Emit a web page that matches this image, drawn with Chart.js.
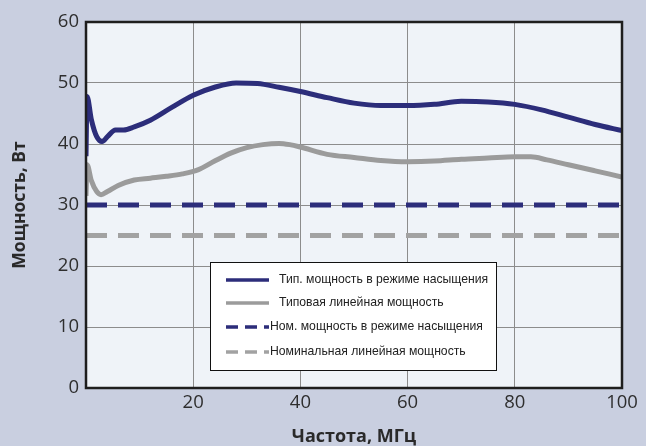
<!DOCTYPE html>
<html>
<head>
<meta charset="utf-8">
<script src="https://cdn.jsdelivr.net/npm/chart.js@4/dist/chart.umd.min.js"></script>
<style>
  html, body { margin: 0; padding: 0; background: #c9cfe0; }
  #wrap { width: 646px; height: 446px; }
</style>
</head>
<body>
<div id="wrap"><canvas id="c" width="646" height="446"></canvas></div>
<script>
// ---- data ----
const seriesNames = [
  "Тип. мощность в режиме насыщения",
  "Типовая линейная мощность",
  "Ном. мощность в режиме насыщения",
  "Номинальная линейная мощность"
];
const freqSat  = [0, 0.2, 1, 2, 3, 4, 5.5, 7, 9, 12, 16, 20, 24, 28, 32, 36, 40, 45, 50, 55, 60, 65, 70, 75, 80, 85, 90, 95, 100];
const powerSat = [38, 47.8, 44, 41.2, 40.4, 41.2, 42.3, 42.3, 42.8, 43.9, 46.0, 48.0, 49.3, 50.0, 49.9, 49.3, 48.6, 47.6, 46.7, 46.3, 46.3, 46.5, 47.0, 46.9, 46.5, 45.6, 44.4, 43.2, 42.2];
const freqLin  = [0, 0.2, 1, 2, 2.8, 4, 6, 9, 12, 15, 18, 21, 24, 27, 30, 33, 36, 38, 40, 45, 50, 55, 60, 65, 70, 75, 80, 83, 86, 90, 95, 100];
const powerLin = [31.5, 36.6, 34, 32.2, 31.7, 32.2, 33.2, 34.1, 34.4, 34.7, 35.1, 35.8, 37.2, 38.5, 39.4, 39.9, 40.1, 39.9, 39.5, 38.3, 37.8, 37.3, 37.1, 37.2, 37.5, 37.7, 37.9, 37.9, 37.4, 36.6, 35.6, 34.6];
const freqNom     = [0, 100];
const nomSatPower = [30, 30];
const nomLinPower = [25, 25];
const xTicks = [0, 20, 40, 60, 80, 100];
const yTicks = [0, 10, 20, 30, 40, 50, 60];
const xTitle = "Частота, МГц";
const yTitle = "Мощность, Вт";

const toPts = (xs, ys) => xs.map((x, i) => ({ x: x, y: ys[i] }));

const BLUE = '#2c2d7a';
const GRAY = '#9b9b9b';
const GRAY_D = '#a2a2a2';

const bgPlugin = {
  id: 'bg',
  beforeDraw(chart) {
    const { ctx, chartArea: a } = chart;
    ctx.save();
    ctx.fillStyle = '#c9cfe0';
    ctx.fillRect(0, 0, chart.width, chart.height);
    ctx.fillStyle = '#eff3f8';
    ctx.fillRect(a.left, a.top, a.right - a.left, a.bottom - a.top);
    ctx.restore();
  },
  afterDatasetsDraw(chart) {
    const { ctx, chartArea: a } = chart;
    ctx.save();
    // frame
    ctx.strokeStyle = '#1e1e1e';
    ctx.lineWidth = 2.5;
    ctx.strokeRect(a.left, a.top, a.right - a.left, a.bottom - a.top);
    // legend box
    const L = 210, T = 262, R = 497, B = 371;
    ctx.fillStyle = '#ffffff';
    ctx.fillRect(L, T, R - L, B - T);
    ctx.strokeStyle = '#111';
    ctx.lineWidth = 1;
    ctx.strokeRect(L + 0.5, T + 0.5, R - L - 1, B - T - 1);
    const rows = [280, 303, 327, 352];
    ctx.font = '12.2px "Liberation Sans", Arial, sans-serif';
    ctx.textBaseline = 'middle';
    ctx.textAlign = 'left';
    chart.data.datasets.forEach((ds, i) => {
      const ry = rows[i];
      ctx.beginPath();
      ctx.strokeStyle = ds.borderColor;
      ctx.lineWidth = 3.5;
      ctx.setLineDash(ds.borderDash && ds.borderDash.length ? [12, 7] : []);
      ctx.moveTo(226, ry);
      ctx.lineTo(269, ry);
      ctx.stroke();
      ctx.setLineDash([]);
      ctx.fillStyle = '#222';
      ctx.fillText(ds.label, i < 2 ? 279 : 270, ry);
    });
    ctx.restore();
  }
};

new Chart(document.getElementById('c'), {
  type: 'line',
  data: {
    datasets: [
      { label: seriesNames[0], data: toPts(freqSat, powerSat), borderColor: BLUE, borderWidth: 5, pointRadius: 0, cubicInterpolationMode: 'monotone', fill: false },
      { label: seriesNames[1], data: toPts(freqLin, powerLin), borderColor: GRAY, borderWidth: 5, pointRadius: 0, cubicInterpolationMode: 'monotone', fill: false },
      { label: seriesNames[2], data: toPts(freqNom, nomSatPower), borderColor: BLUE, borderWidth: 5, borderDash: [21, 11], pointRadius: 0, fill: false },
      { label: seriesNames[3], data: toPts(freqNom, nomLinPower), borderColor: GRAY_D, borderWidth: 5, borderDash: [21, 11], pointRadius: 0, fill: false }
    ]
  },
  options: {
    responsive: false,
    animation: false,
    devicePixelRatio: 1,
    layout: { padding: { top: 22, right: 24, left: 0, bottom: 0 } },
    plugins: { legend: { display: false }, tooltip: { enabled: false } },
    scales: {
      x: {
        type: 'linear', min: 0, max: 100,
        afterBuildTicks(s) { s.ticks = xTicks.map(v => ({ value: v })); },
        afterFit(s) { s.height = 58; },
        grid: { color: '#8c8c8c', lineWidth: 1, drawTicks: false },
        border: { display: false },
        ticks: {
          padding: 4, color: '#2e2e2e',
          font: { family: '"Open Sans", sans-serif', size: 18.5 },
          callback: v => (v === 0 ? '' : v)
        },
        title: {
          display: true, text: xTitle, color: '#2a2a2a',
          font: { family: '"Open Sans", sans-serif', size: 18, weight: 'bold', lineHeight: 1 },
          padding: { top: 0, bottom: 0 }
        }
      },
      y: {
        min: 0, max: 60,
        afterBuildTicks(s) { s.ticks = yTicks.map(v => ({ value: v })); },
        afterFit(s) { s.width = 86; },
        grid: { color: '#8c8c8c', lineWidth: 1, drawTicks: false },
        border: { display: false },
        ticks: {
          padding: 7, color: '#2e2e2e',
          font: { family: '"Open Sans", sans-serif', size: 18.5 }
        },
        title: {
          display: true, text: yTitle, color: '#2a2a2a',
          font: { family: '"Open Sans", sans-serif', size: 17.5, weight: 'bold', lineHeight: 1 },
          padding: { top: 11, bottom: 0 }
        }
      }
    }
  },
  plugins: [bgPlugin]
});
</script>
</body>
</html>
